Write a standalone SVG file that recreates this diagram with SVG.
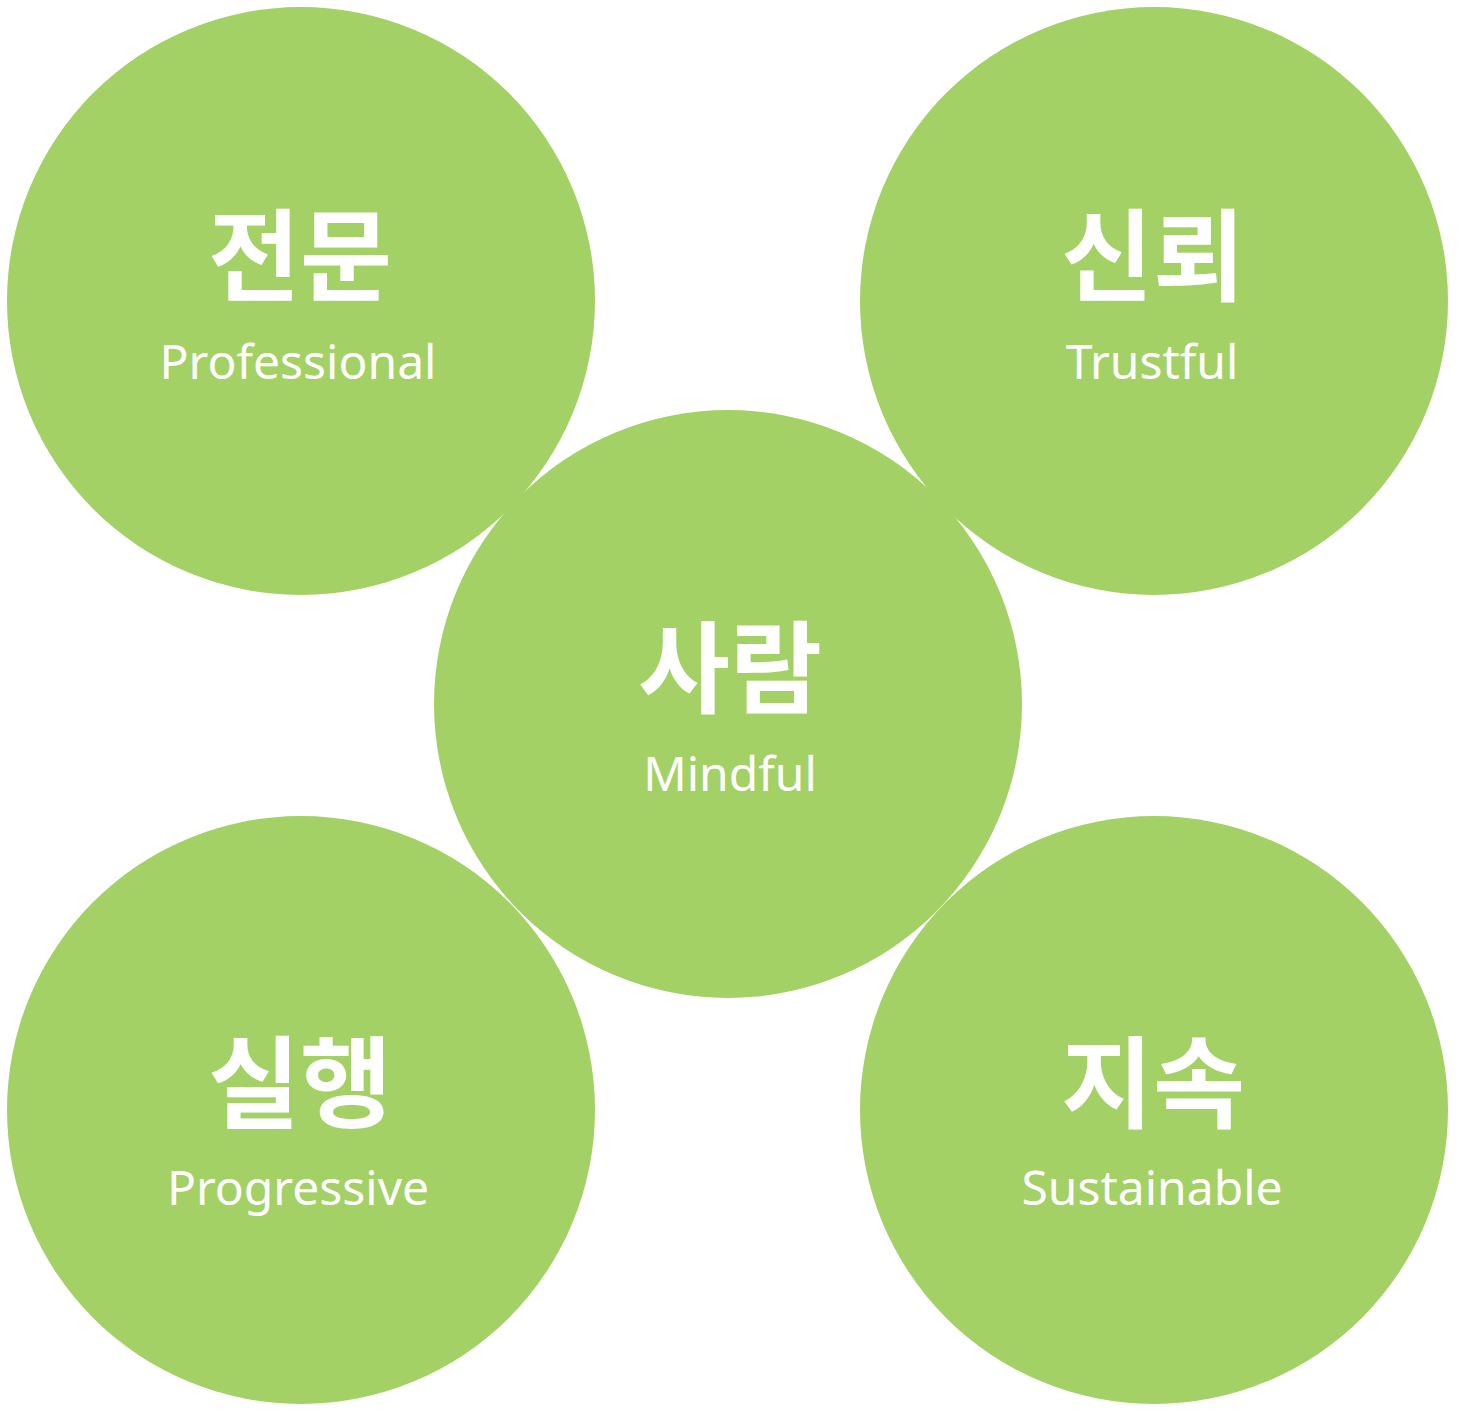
<svg xmlns="http://www.w3.org/2000/svg" width="1459" height="1410" viewBox="0 0 1459 1410">
<style>
.c{fill:#a3d165}
.k{font-family:"Noto Sans CJK KR","Noto Sans",sans-serif;font-weight:700;font-size:100px;fill:#fff;text-anchor:middle}
.e{font-family:"Noto Sans","Liberation Sans",sans-serif;font-size:48px;fill:#fff;text-anchor:middle}
</style>
<rect width="1459" height="1410" fill="#fff"/>
<g id="professional"><circle class="c" cx="301" cy="301" r="294"/><text class="k" x="300" y="293">전문</text><text class="e" x="298" y="379">Professional</text></g>
<g id="trustful"><circle class="c" cx="1154" cy="301" r="294"/><text class="k" x="1153" y="293">신뢰</text><text class="e" x="1152" y="379">Trustful</text></g>
<g id="mindful"><circle class="c" cx="728" cy="704" r="294"/><text class="k" x="730" y="705">사람</text><text class="e" x="730" y="791">Mindful</text></g>
<g id="progressive"><circle class="c" cx="301" cy="1110" r="294"/><text class="k" x="300" y="1120">실행</text><text class="e" x="298" y="1205">Progressive</text></g>
<g id="sustainable"><circle class="c" cx="1154" cy="1110" r="294"/><text class="k" x="1153" y="1120">지속</text><text class="e" x="1152" y="1205">Sustainable</text></g>
<g id="connectors"/>
</svg>
